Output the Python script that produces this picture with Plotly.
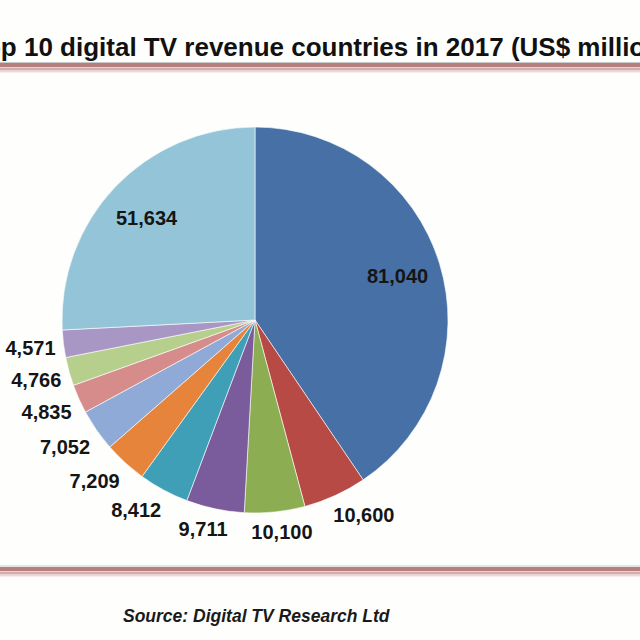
import numpy as np
import plotly.graph_objects as go

# slices clockwise from 12 o'clock
ranks = ["#1", "#2", "#3", "#4", "#5", "#6", "#7", "#8", "#9", "#10", "Rest of world"]
revenue = [81040, 10600, 10100, 9711, 8412, 7209, 7052, 4835, 4766, 4571, 51634]
colours = ["#4771a6", "#b74a44", "#8cad52", "#7a5b9c", "#3f9fb6", "#e7843b",
           "#8faad7", "#d58c8a", "#b7cf8d", "#a896c4", "#93c4d8"]
big_slice = [True, False, False, False, False, False, False, False, False, False, True]

title_text = "Top 10 digital TV revenue countries in 2017 (US$ millions)"
source_text = "Source: Digital TV Research Ltd"

W = H = 640
cx, cy, r = 255, 320, 193  # pie centre / radius in pixels
FS = 20
lab_font = dict(family="Liberation Sans, Arial", size=FS, color="#151515", weight="bold")

fig = go.Figure(go.Pie(
    labels=ranks, values=revenue, sort=False, direction="clockwise", rotation=0,
    marker=dict(colors=colours, line=dict(color="white", width=0.6)),
    textinfo="none",
    domain=dict(x=[(cx - r) / W, (cx + r) / W], y=[(H - cy - r) / H, (H - cy + r) / H]),
    hoverinfo="label+value",
))

# data labels, Excel style: big ones inside near the rim, the rest just outside
vals = np.array(revenue, dtype=float)
mid = np.radians(360 * (np.cumsum(vals) - vals / 2) / vals.sum())
sx, sy = np.sin(mid), -np.cos(mid)
txt = [f"{v:,}" for v in revenue]
w = np.array([FS * (0.556 * sum(c.isdigit() for c in t) + 0.278) for t in txt])
h = FS * 1.3
rad = np.where(big_slice, 0.77 * r, r + 8)
lx = cx + rad * sx + np.where(big_slice, 0, w / 2 * np.clip(2 * sx, -1, 1))
ly = cy + rad * sy + np.where(big_slice, 0, h / 2 * np.clip(2 * sy, -1, 1) + 1.5)

outer = [i for i, b in enumerate(big_slice) if not b]
fig.add_trace(go.Scatter(
    x=lx[outer], y=ly[outer], text=[txt[i] for i in outer],
    mode="text", textposition="middle center", textfont=lab_font,
    hoverinfo="skip", showlegend=False,
))
# labels sitting on the slices have to go above the pie layer
for i, b in enumerate(big_slice):
    if b:
        fig.add_annotation(x=lx[i], y=ly[i], xref="x", yref="y", text=txt[i],
                           showarrow=False, font=lab_font)

fig.update_xaxes(range=[0, W], visible=False, fixedrange=True)
fig.update_yaxes(range=[H, 0], visible=False, fixedrange=True)

# decorative bands above and below the chart
for y0, col, lw in [(62.5, "#c9c9c9", 1), (65, "#b57f80", 4), (69, "#d4aaaa", 3), (71.5, "#ecd8d8", 2),
                    (566, "#c9c9c9", 1), (569, "#b57f80", 4), (573, "#d4aaaa", 3), (575.5, "#ecd8d8", 2)]:
    fig.add_shape(type="line", xref="paper", yref="paper", x0=0, x1=1,
                  y0=1 - y0 / H, y1=1 - y0 / H, line=dict(color=col, width=lw))

fig.add_annotation(text="<b>" + title_text + "</b>", xref="paper", yref="paper",
                   x=-31 / W, y=1 - 47 / H, xanchor="left", yanchor="middle", showarrow=False,
                   font=dict(family="Liberation Sans, Arial", size=26, color="#111"))
fig.add_annotation(text="<b><i>" + source_text + "</i></b>", xref="paper", yref="paper",
                   x=256 / W, y=1 - 616 / H, xanchor="center", yanchor="middle", showarrow=False,
                   font=dict(family="Liberation Sans, Arial", size=17.5, color="#1a1a1a"))

fig.update_layout(
    width=W, height=H,
    margin=dict(l=0, r=0, t=0, b=0),
    paper_bgcolor="#fefefc",
    plot_bgcolor="rgba(0,0,0,0)",
    showlegend=False,
)

fig.write_html("out.html", config={"displayModeBar": False},
               post_script="document.body.style.margin='0';")
